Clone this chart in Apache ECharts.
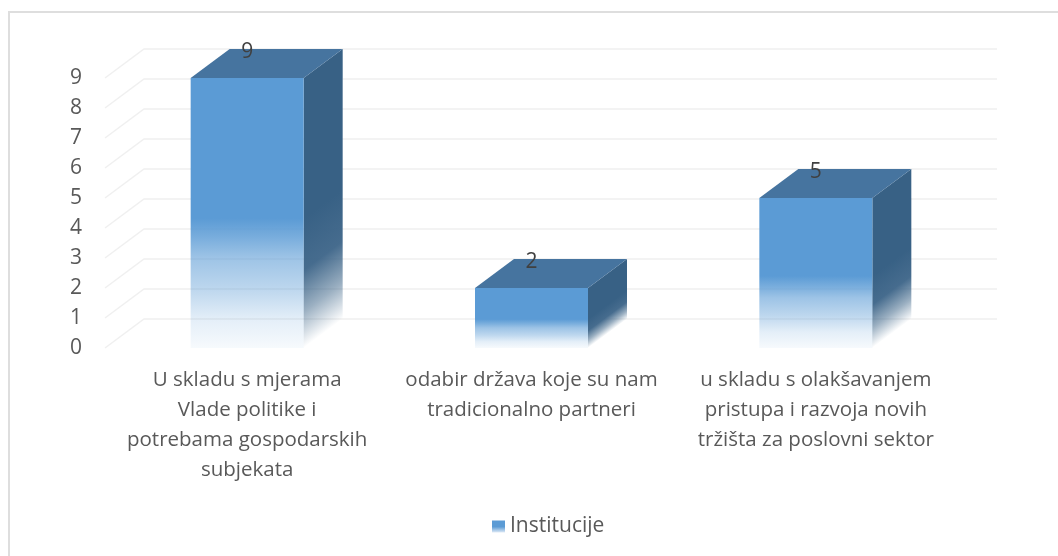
<!DOCTYPE html>
<html>
<head>
<meta charset="utf-8">
<title>Institucije</title>
<style>
  html, body { margin: 0; padding: 0; background: #fff; }
  #chart { width: 1058px; height: 556px; }
</style>
</head>
<body>
<div id="chart"></div>
<script src="https://cdn.jsdelivr.net/npm/echarts@6/dist/echarts.min.js"></script>
<script>
const categories = [
  'U skladu s mjerama\nVlade politike i\npotrebama gospodarskih\nsubjekata',
  'odabir država koje su nam\ntradicionalno partneri',
  'u skladu s olakšavanjem\npristupa i razvoja novih\ntržišta za poslovni sektor'
]
const seriesName = 'Institucije'
const values = [9, 2, 5]
const yTicks = [0, 1, 2, 3, 4, 5, 6, 7, 8, 9]

// pomak prema "dubini" 3D prikaza
const DEPTH_X = 39
const DEPTH_Y = -29
const BAR_WIDTH = 113
const FONT = '"Open Sans", "Noto Sans", sans-serif'

const chart = echarts.init(document.getElementById('chart'))

function renderWall(params, api) {
  const tick = api.value(0)
  const left = api.coord([0, tick])
  const right = api.coord([categories.length - 1, tick])
  const band = api.size([1, 0])[0]
  const x0 = left[0] - band / 2
  const x1 = right[0] + band / 2
  const y = left[1]
  return {
    type: 'polyline',
    shape: {
      points: [[x0, y], [x0 + DEPTH_X, y + DEPTH_Y], [x1 + DEPTH_X, y + DEPTH_Y]]
    },
    style: { stroke: '#f0f0f0', lineWidth: 1.5, fill: null },
    silent: true
  }
}

function renderBar(params, api) {
  const top = api.coord([api.value(0), api.value(1)])
  const base = api.coord([api.value(0), 0])
  const x0 = top[0] - BAR_WIDTH / 2
  const x1 = top[0] + BAR_WIDTH / 2
  const yTop = top[1]
  const yBase = base[1]
  // boja je puna do otprilike polovine stupca, zatim prelazi u prozirno
  const ySolid = yTop + (yBase - yTop) * 0.52
  const fade = yBase - ySolid
  const len = Math.hypot(DEPTH_X, DEPTH_Y)
  const nx = -DEPTH_Y / len
  const ny = DEPTH_X / len
  const d = fade * ny

  const frontFill = new echarts.graphic.LinearGradient(0, ySolid, 0, yBase, [
    { offset: 0, color: 'rgba(91,155,213,1)' },
    { offset: 0.15, color: 'rgba(91,155,213,0.81)' },
    { offset: 0.3, color: 'rgba(91,155,213,0.6)' },
    { offset: 0.55, color: 'rgba(91,155,213,0.4)' },
    { offset: 0.78, color: 'rgba(91,155,213,0.165)' },
    { offset: 1, color: 'rgba(91,155,213,0.05)' }
  ], true)
  const sideFill = new echarts.graphic.LinearGradient(x1, ySolid, x1 + nx * d, ySolid + ny * d, [
    { offset: 0, color: 'rgba(56,97,133,1)' },
    { offset: 0.4, color: 'rgba(60,100,136,0.95)' },
    { offset: 0.72, color: 'rgba(56,97,133,0.5)' },
    { offset: 1, color: 'rgba(56,97,133,0)' }
  ], true)

  return {
    type: 'group',
    children: [
      {
        type: 'polygon',
        shape: { points: [[x1, yTop], [x1 + DEPTH_X, yTop + DEPTH_Y], [x1 + DEPTH_X, yBase + DEPTH_Y], [x1, yBase]] },
        style: { fill: sideFill }
      },
      {
        type: 'polygon',
        shape: { points: [[x0, yTop], [x0 + DEPTH_X, yTop + DEPTH_Y], [x1 + DEPTH_X, yTop + DEPTH_Y], [x1, yTop]] },
        style: { fill: '#46749f' }
      },
      {
        type: 'rect',
        shape: { x: x0, y: yTop, width: BAR_WIDTH, height: yBase - yTop },
        style: { fill: frontFill }
      },
      {
        type: 'text',
        style: {
          text: String(api.value(1)),
          x: top[0],
          y: yTop - 26,
          align: 'center',
          verticalAlign: 'middle',
          font: '21px ' + FONT,
          fill: '#404040'
        }
      }
    ]
  }
}

chart.setOption({
  backgroundColor: '#fff',
  animation: false,
  // okvir se vidi samo gore i lijevo
  graphic: [
    {
      type: 'line',
      silent: true,
      shape: { x1: 8, y1: 12, x2: 1058, y2: 12 },
      style: { stroke: '#dedede', lineWidth: 2 }
    },
    {
      type: 'line',
      silent: true,
      shape: { x1: 9, y1: 11, x2: 9, y2: 556 },
      style: { stroke: '#dedede', lineWidth: 2 }
    }
  ],
  grid: { left: 105, right: 100, top: 78, bottom: 208 },
  legend: {
    left: 487,
    top: 511,
    itemWidth: 13,
    itemHeight: 12,
    itemGap: 5,
    icon: 'rect',
    textStyle: { fontSize: 21, color: '#595959', fontFamily: FONT },
    data: [{
      name: seriesName,
      itemStyle: {
        color: {
          type: 'linear', x: 0, y: 0, x2: 0, y2: 1,
          colorStops: [
            { offset: 0, color: '#5b9bd5' },
            { offset: 0.52, color: '#5b9bd5' },
            { offset: 1, color: '#dfeaf6' }
          ]
        }
      }
    }]
  },
  xAxis: {
    type: 'category',
    data: categories,
    axisLine: { show: false },
    axisTick: { show: false },
    axisLabel: {
      interval: 0,
      margin: 17,
      fontSize: 20.5,
      lineHeight: 30,
      color: '#595959',
      fontFamily: FONT,
      align: 'center'
    }
  },
  yAxis: {
    type: 'value',
    min: 0,
    max: 9,
    interval: 1,
    axisLine: { show: false },
    axisTick: { show: false },
    splitLine: { show: false },
    axisLabel: { margin: 23, fontSize: 21, color: '#595959', fontFamily: FONT }
  },
  series: [
    {
      type: 'custom',
      name: 'wall',
      silent: true,
      z: 1,
      renderItem: renderWall,
      encode: { y: 0 },
      data: yTicks.map(t => [t]),
      coordinateSystem: 'cartesian2d'
    },
    {
      type: 'custom',
      name: seriesName,
      z: 2,
      renderItem: renderBar,
      encode: { x: 0, y: 1 },
      itemStyle: { color: '#5b9bd5' },
      data: values.map((v, i) => [i, v])
    }
  ]
})
</script>
</body>
</html>
